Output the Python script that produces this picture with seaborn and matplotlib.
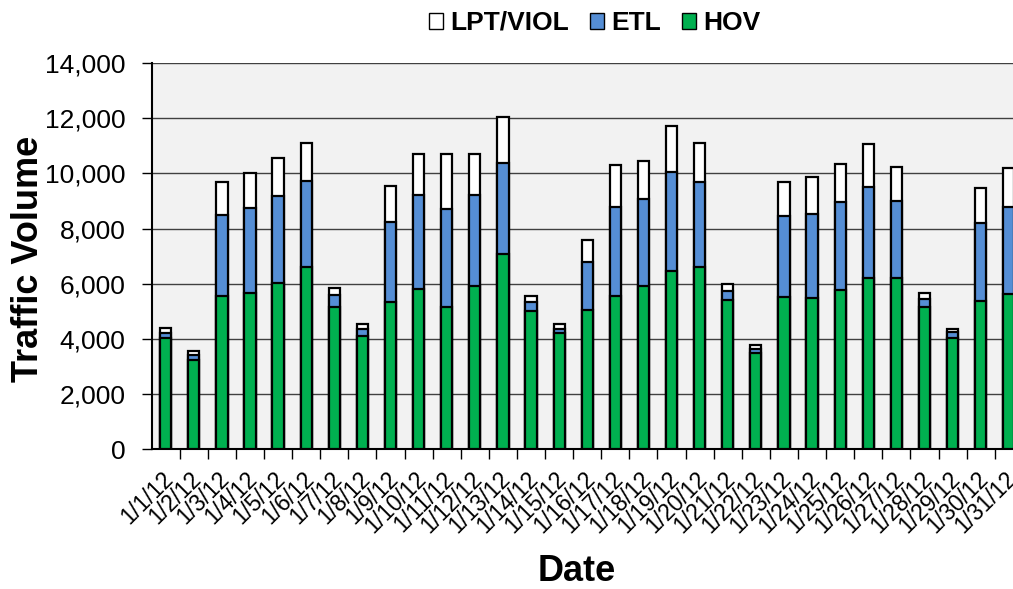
import numpy as np
import pandas as pd
import seaborn as sns
import matplotlib.pyplot as plt
from matplotlib.patches import Patch
from matplotlib.ticker import FuncFormatter
from matplotlib.transforms import ScaledTranslation

# daily volumes, January 2012
dates = ['1/1/12', '1/2/12', '1/3/12', '1/4/12', '1/5/12', '1/6/12', '1/7/12', '1/8/12',
         '1/9/12', '1/10/12', '1/11/12', '1/12/12', '1/13/12', '1/14/12', '1/15/12', '1/16/12',
         '1/17/12', '1/18/12', '1/19/12', '1/20/12', '1/21/12', '1/22/12', '1/23/12', '1/24/12',
         '1/25/12', '1/26/12', '1/27/12', '1/28/12', '1/29/12', '1/30/12', '1/31/12']
hov = [4040, 3240, 5570, 5680, 6030, 6610, 5160, 4110, 5330, 5810, 5170, 5930, 7090, 5000, 4205, 5050,
       5550, 5930, 6450, 6610, 5410, 3480, 5520, 5500, 5765, 6220, 6220, 5145, 4050, 5365, 5620]
etl = [180, 180, 2920, 3060, 3160, 3120, 430, 265, 2910, 3400, 3540, 3290, 3290, 330, 170, 1740,
       3245, 3155, 3600, 3070, 330, 170, 2925, 3040, 3200, 3280, 2790, 300, 200, 2830, 3175]
lpt = [170, 155, 1200, 1290, 1370, 1380, 245, 180, 1305, 1510, 1990, 1500, 1650, 220, 155, 800,
       1500, 1380, 1660, 1425, 240, 120, 1255, 1320, 1375, 1555, 1210, 220, 120, 1280, 1415]

df = pd.DataFrame({'date': dates, 'HOV': hov, 'ETL': etl, 'LPT/VIOL': lpt})
df['etl_top'] = df['HOV'] + df['ETL']
df['total'] = df['etl_top'] + df['LPT/VIOL']

plt.rcParams['font.family'] = ['Liberation Sans', 'DejaVu Sans']

fig = plt.figure(figsize=(10.13, 5.89), dpi=100)
ax = fig.add_axes([0.1497, 0.2372, 0.860, 0.6557])
ax.set_facecolor('#F2F2F2')

# stacked bars: draw cumulative tops, largest first
for col, color in [('total', 'white'), ('etl_top', '#558ED5'), ('HOV', '#00B050')]:
    sns.barplot(data=df, x='date', y=col, color=color, saturation=1, width=0.4,
                edgecolor='black', linewidth=1.6, errorbar=None, ax=ax, zorder=3)

ax.set_ylim(0, 14000)
ax.set_xlim(-0.5, 30.5)
ax.set_yticks(range(0, 14001, 2000))
ax.yaxis.set_major_formatter(FuncFormatter(lambda v, p: f"{int(v):,}"))
ax.yaxis.grid(True, color='#404040', lw=1)
ax.set_axisbelow(True)

ax.set_xticks(range(len(dates)))
ax.set_xticklabels(dates, rotation=45, ha='right', va='top', rotation_mode='anchor', fontsize=16.5)
ax.tick_params(axis='x', which='major', length=0, pad=13)
shift = ScaledTranslation(-3 / 72, 0, fig.dpi_scale_trans)
for lab in ax.get_xticklabels():
    lab.set_transform(lab.get_transform() + shift)
ax.set_xticks(np.arange(0.5, len(dates), 1), minor=True)
ax.tick_params(axis='x', which='minor', length=7, width=1, direction='out')
ax.tick_params(axis='y', labelsize=19, length=7, width=1, pad=12)

for s in ['top', 'right']:
    ax.spines[s].set_visible(False)
for s in ['left', 'bottom']:
    ax.spines[s].set_color('black')
    ax.spines[s].set_linewidth(1.5)

ax.set_ylabel('Traffic Volume', fontsize=26, fontweight='bold')
ax.yaxis.set_label_coords(-0.121, 0.493)
ax.set_xlabel('Date', fontsize=26, fontweight='bold')
ax.xaxis.set_label_coords(0.488, -0.271)

handles = [Patch(facecolor='white', edgecolor='black', label='LPT/VIOL'),
           Patch(facecolor='#558ED5', edgecolor='black', label='ETL'),
           Patch(facecolor='#00B050', edgecolor='black', label='HOV')]
fig.legend(handles=handles, ncol=3, loc='center', bbox_to_anchor=(0.587, 0.961), frameon=False,
           prop={'weight': 'bold', 'size': 19}, handlelength=0.55, handleheight=0.55,
           handletextpad=0.25, columnspacing=0.8, borderpad=0)

fig.savefig('out.png', dpi=100)
